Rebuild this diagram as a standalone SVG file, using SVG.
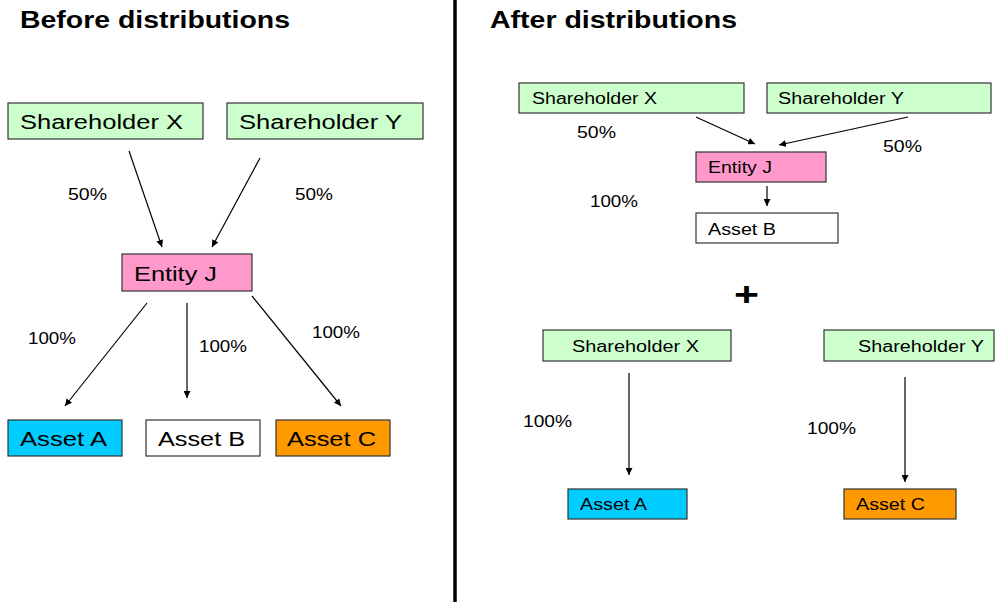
<svg xmlns="http://www.w3.org/2000/svg" width="995" height="602" viewBox="0 0 995 602">
<style>
text{font-family:"Liberation Sans",Arial,sans-serif;fill:#000}
.box{stroke:#333;stroke-width:1.2}
.sh{fill:#CCFFCC}
.ej{fill:#FF99CC}
.aa{fill:#00CCFF}
.ab{fill:#FFFFFF}
.ac{fill:#FF9900}
.big{font-size:20px}
.sm{font-size:16px}
.pct{font-size:17px}
.title{font-size:23px;font-weight:bold}
.con line{stroke:#000;stroke-width:1.2;marker-end:url(#ah)}
</style>
<defs>
<marker id="ah" viewBox="0 0 10 10" refX="10" refY="5" markerWidth="7" markerHeight="7" markerUnits="userSpaceOnUse" orient="auto">
<path d="M0,0 L10,5 L0,10 z" fill="#000"/>
</marker>
</defs>
<rect width="995" height="602" fill="#fff"/>
<text class="title" x="20" y="28" textLength="270" lengthAdjust="spacingAndGlyphs">Before distributions</text>
<text class="title" x="490" y="28" textLength="247" lengthAdjust="spacingAndGlyphs">After distributions</text>
<line x1="455" y1="0" x2="455" y2="602" stroke="#000" stroke-width="3.5"/>

<g id="before-shareholder-x"><rect class="box sh" x="8" y="103" width="195" height="36"/><text class="big" x="20" y="129" textLength="163" lengthAdjust="spacingAndGlyphs">Shareholder X</text></g>
<g id="before-shareholder-y"><rect class="box sh" x="227" y="103" width="196" height="36"/><text class="big" x="239" y="129" textLength="163" lengthAdjust="spacingAndGlyphs">Shareholder Y</text></g>
<g id="before-entity-j"><rect class="box ej" x="122" y="254" width="130" height="37"/><text class="big" x="134" y="281" textLength="83" lengthAdjust="spacingAndGlyphs">Entity J</text></g>
<g id="before-asset-a"><rect class="box aa" x="8" y="420" width="114" height="36"/><text class="big" x="20" y="446" textLength="87" lengthAdjust="spacingAndGlyphs">Asset A</text></g>
<g id="before-asset-b"><rect class="box ab" x="146" y="420" width="114" height="36"/><text class="big" x="158" y="446" textLength="87" lengthAdjust="spacingAndGlyphs">Asset B</text></g>
<g id="before-asset-c"><rect class="box ac" x="276" y="420" width="114" height="36"/><text class="big" x="287" y="446" textLength="89" lengthAdjust="spacingAndGlyphs">Asset C</text></g>

<g id="after-shareholder-x"><rect class="box sh" x="519" y="83" width="225" height="30"/><text class="sm" x="532" y="104" textLength="125" lengthAdjust="spacingAndGlyphs">Shareholder X</text></g>
<g id="after-shareholder-y"><rect class="box sh" x="767" y="83" width="224" height="30"/><text class="sm" x="778" y="104" textLength="126" lengthAdjust="spacingAndGlyphs">Shareholder Y</text></g>
<g id="after-entity-j"><rect class="box ej" x="696" y="152" width="130" height="30"/><text class="sm" x="708" y="173" textLength="64" lengthAdjust="spacingAndGlyphs">Entity J</text></g>
<g id="after-asset-b"><rect class="box ab" x="696" y="213" width="142" height="30"/><text class="sm" x="708" y="235" textLength="68" lengthAdjust="spacingAndGlyphs">Asset B</text></g>
<g id="after2-shareholder-x"><rect class="box sh" x="543" y="330" width="188" height="31"/><text class="sm" x="572" y="352" textLength="127" lengthAdjust="spacingAndGlyphs">Shareholder X</text></g>
<g id="after2-shareholder-y"><rect class="box sh" x="824" y="330" width="170" height="31"/><text class="sm" x="858" y="352" textLength="126" lengthAdjust="spacingAndGlyphs">Shareholder Y</text></g>
<g id="after-asset-a"><rect class="box aa" x="568" y="489" width="119" height="30"/><text class="sm" x="580" y="510" textLength="67" lengthAdjust="spacingAndGlyphs">Asset A</text></g>
<g id="after-asset-c"><rect class="box ac" x="844" y="489" width="112" height="30"/><text class="sm" x="856" y="510" textLength="69" lengthAdjust="spacingAndGlyphs">Asset C</text></g>

<text x="734" y="306" font-size="34" font-weight="bold" textLength="25" lengthAdjust="spacingAndGlyphs">+</text>

<g class="con">
<line x1="129" y1="151" x2="162" y2="247"/>
<line x1="260" y1="158" x2="212" y2="247"/>
<line x1="147" y1="303" x2="65" y2="406"/>
<line x1="187" y1="303" x2="187" y2="398"/>
<line x1="252" y1="296" x2="341" y2="406"/>
<line x1="696" y1="117" x2="755" y2="144"/>
<line x1="908" y1="117" x2="779" y2="145"/>
<line x1="767" y1="186" x2="767" y2="206"/>
<line x1="629" y1="373" x2="629" y2="475"/>
<line x1="905" y1="377" x2="905" y2="482"/>
</g>

<g id="labels">
<text class="pct" x="68" y="200" textLength="39" lengthAdjust="spacingAndGlyphs">50%</text>
<text class="pct" x="295" y="200" textLength="38" lengthAdjust="spacingAndGlyphs">50%</text>
<text class="pct" x="28" y="344" textLength="48" lengthAdjust="spacingAndGlyphs">100%</text>
<text class="pct" x="199" y="352" textLength="48" lengthAdjust="spacingAndGlyphs">100%</text>
<text class="pct" x="312" y="338" textLength="48" lengthAdjust="spacingAndGlyphs">100%</text>
<text class="pct" x="577" y="138" textLength="39" lengthAdjust="spacingAndGlyphs">50%</text>
<text class="pct" x="883" y="152" textLength="39" lengthAdjust="spacingAndGlyphs">50%</text>
<text class="pct" x="590" y="207" textLength="48" lengthAdjust="spacingAndGlyphs">100%</text>
<text class="pct" x="523" y="427" textLength="49" lengthAdjust="spacingAndGlyphs">100%</text>
<text class="pct" x="807" y="434" textLength="49" lengthAdjust="spacingAndGlyphs">100%</text>
</g>
</svg>
